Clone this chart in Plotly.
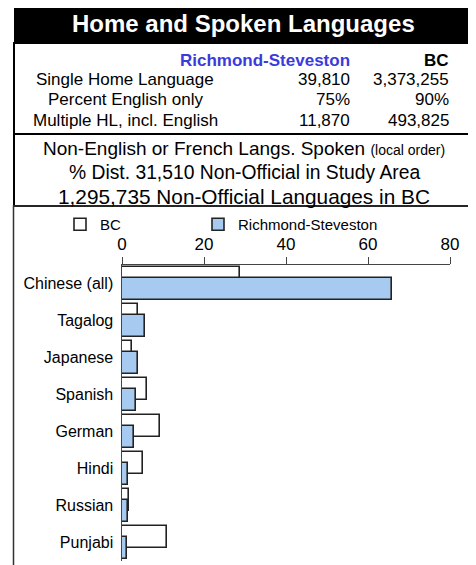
import plotly.graph_objects as go

# ---- data ----
categories = ["Chinese (all)", "Tagalog", "Japanese", "Spanish", "German", "Hindi", "Russian", "Punjabi"]
bc_values = [28.9, 4.0, 2.4, 6.0, 9.3, 5.0, 1.8, 11.0]
rs_values = [65.8, 5.6, 3.8, 3.3, 2.9, 1.5, 1.5, 1.1]
x_ticks = [0, 20, 40, 60, 80]

title_text = "Home and Spoken Languages"
area_name = "Richmond-Steveston"
region_name = "BC"
table_labels = ["Single Home Language", "Percent English only", "Multiple HL, incl. English"]
table_area = ["39,810", "75%", "11,870"]
table_bc = ["3,373,255", "90%", "493,825"]
sub_lines = [
    "Non-English or French Langs. Spoken <span style='font-size:14px'>(local order)</span>",
    "% Dist. 31,510 Non-Official in Study Area",
    "1,295,735 Non-Official Languages in BC",
]

# ---- layout geometry (pixels, page coordinates) ----
OFF = 8  # default page body margin
W, H = 476 - OFF, 565 - OFF
PL, PR, PT, PB = 122, 450, 265, 561  # plot area edges in page pixels
FONT = "Arial, Liberation Sans, sans-serif"


def px(x):
    return (x - PL) / (PR - PL)


def py(y):
    return (PB - y) / (PB - PT)


fig = go.Figure()
fig.add_trace(go.Bar(
    y=categories, x=bc_values, orientation="h", name=region_name, legend="legend",
    marker=dict(color="white", line=dict(color="#222222", width=1.6)),
    width=0.58, offset=-0.44,
))
fig.add_trace(go.Bar(
    y=categories, x=rs_values, orientation="h", name=area_name, legend="legend2",
    marker=dict(color="#A6CAF0", line=dict(color="#222222", width=1.6)),
    width=0.58, offset=-0.14,
))

shapes = [
    dict(type="rect", xref="paper", yref="paper", x0=px(14), x1=px(471), y0=py(43), y1=py(5),
         fillcolor="black", line=dict(width=0), layer="below"),
    dict(type="rect", xref="paper", yref="paper", x0=px(14), x1=px(470), y0=py(134), y1=py(43),
         fillcolor="rgba(0,0,0,0)", line=dict(color="black", width=2)),
    dict(type="rect", xref="paper", yref="paper", x0=px(14), x1=px(470), y0=py(206), y1=py(134),
         fillcolor="rgba(0,0,0,0)", line=dict(color="black", width=2)),
    dict(type="rect", xref="paper", yref="paper", x0=px(13.5), x1=px(470.5), y0=py(575), y1=py(206),
         fillcolor="rgba(0,0,0,0)", line=dict(color="#333333", width=1.5)),
]

ann = []


def add_text(text, x, y, size, xanchor="center", color="black", bold=False):
    t = f"<b>{text}</b>" if bold else text
    ann.append(dict(text=t, x=px(x), y=py(y), xref="paper", yref="paper", showarrow=False,
                    xanchor=xanchor, yanchor="middle", font=dict(family=FONT, size=size, color=color)))


add_text(title_text, 243, 24, 24, color="white", bold=True)
add_text(area_name, 352, 60, 17, xanchor="right", color="#3B3BDB", bold=True)
add_text(region_name, 451, 60, 17, xanchor="right", bold=True)
row_y = [79, 99, 120]
for lab, a, b, y in zip(table_labels, table_area, table_bc, row_y):
    add_text(lab, 125, y, 17)
    add_text(a, 352, y, 17, xanchor="right")
    add_text(b, 451, y, 17, xanchor="right")
for line, y, s in zip(sub_lines, [148, 172, 197], [19, 19.3, 20.8]):
    add_text(line, 244, y, s)

legend_common = dict(orientation="h", xanchor="left", yanchor="top", itemwidth=30,
                     font=dict(family=FONT, size=15, color="black"),
                     bgcolor="rgba(0,0,0,0)")

fig.update_layout(
    width=W, height=H,
    margin=dict(l=PL - OFF, r=W - (PR - OFF), t=PT - OFF, b=H - (PB - OFF), pad=0),
    paper_bgcolor="white", plot_bgcolor="white",
    barmode="overlay", bargap=0,
    showlegend=True,
    legend=dict(x=px(60), y=py(208), **legend_common),
    legend2=dict(x=px(198), y=py(208), **legend_common),
    xaxis=dict(range=[0, 80], side="top", tickvals=x_ticks, showgrid=False, zeroline=False,
               showline=True, linecolor="#444444", linewidth=1.2,
               ticks="outside", ticklen=7, tickcolor="#444444", tickwidth=1.2,
               tickfont=dict(family=FONT, size=17, color="black"), fixedrange=True),
    yaxis=dict(autorange="reversed", showgrid=False, zeroline=False, showline=True,
               linecolor="#444444", linewidth=1.2, ticks="",
               tickfont=dict(family=FONT, size=16, color="black"), ticksuffix=" ", fixedrange=True),
    shapes=shapes, annotations=ann,
    font=dict(family=FONT),
)

fig.write_html("out.html")
